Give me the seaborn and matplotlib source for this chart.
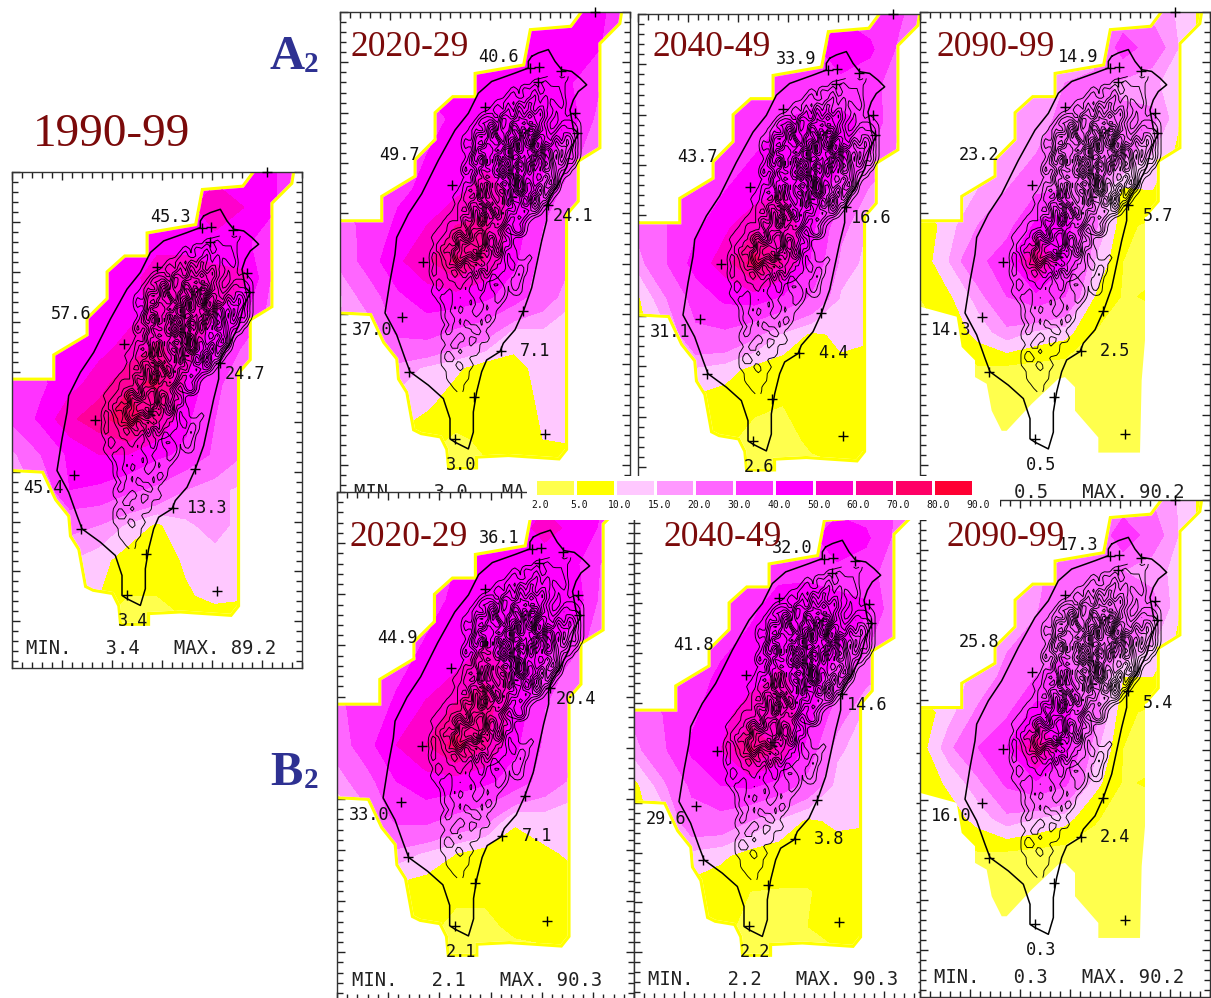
import numpy as np
import seaborn as sns
import matplotlib
matplotlib.use("Agg")
import matplotlib.pyplot as plt
from matplotlib.colors import ListedColormap, BoundaryNorm
from matplotlib.patches import Polygon

sns.set_style("white")

levels = [2, 5, 10, 15, 20, 30, 40, 50, 60, 70, 80, 90]
level_labels = ["2.0", "5.0", "10.0", "15.0", "20.0", "30.0", "40.0", "50.0", "60.0", "70.0", "80.0", "90.0"]
level_colors = ["#ffff4d", "#ffff00", "#ffc8ff", "#ff99ff", "#ff66ff", "#ff33ff", "#ff00ff",
                "#ff00cc", "#ff0099", "#ff0066", "#ff0033"]

grid_x = [35, 122, 209, 296, 383, 470, 557, 644, 731, 818, 905]
grid_y = [38, 144, 250, 356, 462, 568, 674, 780, 886, 992, 1098, 1204, 1310, 1416, 1528]

field_1990 = [
    [45, 45, 45, 45, 45, 45, 45, 45, 45, 42, 25],
    [45, 45, 45, 45, 45, 45, 45, 60, 50, 42, 25],
    [45, 45, 45, 45, 45, 47, 47, 45, 43, 30, 20],
    [40, 40, 40, 40, 46, 55, 55, 53, 52, 28, 20],
    [40, 40, 40, 43, 47, 52, 52, 50, 42, 25, 20],
    [35, 40, 42, 47, 53, 62, 55, 42, 28, 20, 20],
    [34, 38, 46, 55, 68, 72, 48, 32, 24, 20, 20],
    [32, 42, 58, 66, 78, 62, 42, 30, 25, 20, 20],
    [18, 30, 42, 50, 50, 42, 38, 28, 20, 20, 20],
    [15, 22, 40, 38, 32, 28, 20, 16, 14, 14, 14],
    [15, 18, 22, 20, 14, 9, 14, 17, 13, 13, 13],
    [12, 13, 15, 12, 7, 6, 11, 13, 12, 12, 12],
    [8, 9, 10, 10, 5, 5, 9, 12, 11, 11, 11],
    [3, 3, 4, 4, 3, 3, 3, 3, 3, 3, 3],
    [2, 2, 2, 2, 2, 2, 2, 2, 2, 2, 2],
]
field_a_2020 = [
    [45, 45, 45, 45, 45, 45, 45, 45, 42, 42, 30],
    [42, 42, 42, 42, 42, 42, 45, 50, 50, 40, 25],
    [42, 42, 42, 42, 42, 45, 42, 40, 40, 30, 20],
    [35, 35, 35, 36, 42, 47, 47, 45, 44, 25, 20],
    [35, 35, 37, 40, 43, 47, 45, 42, 33, 22, 20],
    [30, 34, 38, 42, 47, 54, 48, 38, 24, 20, 18],
    [26, 33, 42, 50, 60, 62, 46, 30, 22, 20, 18],
    [22, 35, 48, 58, 72, 60, 42, 26, 20, 20, 18],
    [14, 24, 38, 45, 46, 42, 35, 24, 16, 16, 16],
    [15, 16, 32, 34, 28, 24, 13, 14, 12, 12, 12],
    [18, 18, 18, 14, 11, 7, 8, 12, 11, 11, 11],
    [13, 13, 13, 11, 7, 6, 7, 11, 11, 11, 11],
    [9, 9, 9, 6, 4.5, 5.5, 6, 10, 11, 11, 11],
    [3, 3, 3.5, 4, 4, 4.5, 4, 4, 4, 4, 4],
    [2, 2, 2, 2, 2, 2, 2, 2, 2, 2, 2],
]
field_a_2040 = [
    [38, 38, 38, 38, 38, 38, 38, 38, 35, 32, 20],
    [35, 35, 35, 35, 35, 35, 36, 50, 42, 28, 20],
    [35, 35, 35, 35, 35, 35, 36, 35, 33, 25, 18],
    [32, 32, 32, 32, 36, 40, 42, 42, 38, 20, 18],
    [33, 33, 33, 36, 40, 44, 44, 43, 30, 18, 18],
    [28, 30, 34, 40, 45, 50, 46, 33, 18, 16, 16],
    [22, 30, 38, 48, 58, 58, 42, 22, 14, 14, 14],
    [17, 30, 44, 55, 75, 60, 38, 18, 13, 13, 13],
    [9, 20, 34, 42, 44, 38, 28, 14, 12, 12, 12],
    [8, 14, 28, 28, 22, 14, 9, 11, 11, 11, 11],
    [14, 14, 14, 12, 8, 7, 7, 9, 7, 7, 7],
    [8, 8, 8, 7, 5.5, 5, 5.5, 7, 7, 7, 7],
    [6, 6, 6, 5.5, 4, 4, 5.5, 7, 7, 7, 7],
    [5, 5, 5, 4, 3, 3.5, 4, 4, 4, 4, 4],
    [2, 2, 2, 2, 2, 2, 2, 2, 2, 2, 2],
]
field_a_2090 = [
    [22, 22, 22, 22, 22, 22, 22, 22, 18, 14, 6],
    [14, 14, 14, 14, 14, 14, 16, 35, 25, 14, 6],
    [16, 16, 16, 16, 17, 20, 22, 18, 16, 12, 6],
    [14, 14, 14, 14, 17, 22, 24, 22, 22, 10, 6],
    [14, 14, 14, 18, 20, 27, 26, 22, 15, 8, 6],
    [12, 12, 15, 20, 28, 30, 20, 9, 10, 7, 6],
    [5, 13, 20, 26, 42, 45, 22, 6, 4, 4, 4],
    [6, 15, 27, 36, 70, 42, 15, 5, 4, 4, 4],
    [5, 9, 17, 30, 36, 30, 10, 4.5, 5.5, 4, 4],
    [3, 6, 12, 18, 14, 12, 5, 3, 3, 3, 3],
    [3, 3, 4.5, 4, 3.2, 2.5, 3, 3, 3, 3, 3],
    [3, 3, 2.8, 2.5, 2.5, 2.5, 2.5, 3, 3, 3, 3],
    [2.5, 2.5, 2.5, 2.5, 2.5, 2.5, 2.5, 3, 3, 3, 3],
    [2.5, 2.5, 2.5, 2.5, 2.5, 2.5, 2.5, 2.5, 2.5, 2.5, 2.5],
    [2, 2, 2, 2, 2, 2, 2, 2, 2, 2, 2],
]
field_b_2020 = [
    [42, 42, 42, 42, 42, 42, 42, 45, 45, 40, 25],
    [40, 40, 40, 40, 40, 40, 44, 55, 46, 38, 22],
    [40, 40, 40, 40, 40, 43, 44, 42, 42, 28, 18],
    [35, 35, 35, 36, 42, 50, 50, 46, 46, 25, 18],
    [35, 35, 38, 40, 44, 48, 46, 44, 36, 22, 18],
    [30, 36, 38, 44, 50, 58, 48, 38, 24, 20, 16],
    [28, 34, 42, 52, 62, 65, 46, 30, 20, 18, 16],
    [24, 36, 50, 60, 74, 62, 42, 28, 20, 18, 16],
    [16, 26, 40, 46, 46, 42, 36, 25, 18, 16, 15],
    [12, 17, 33, 34, 28, 24, 11, 13, 12, 12, 12],
    [18, 18, 18, 14, 10, 7, 7, 9, 11, 8, 8],
    [12, 12, 8, 7, 6, 5.5, 6, 7, 8, 8, 8],
    [5, 5, 7, 6, 4, 4.5, 5.5, 6, 7, 7, 7],
    [3, 3, 3, 3.5, 3, 3, 4, 4, 4, 4, 4],
    [2, 2, 2, 2, 2, 2, 2, 2, 2, 2, 2],
]
field_b_2040 = [
    [35, 35, 35, 35, 35, 35, 35, 35, 35, 30, 20],
    [32, 32, 32, 32, 32, 32, 36, 48, 42, 28, 20],
    [34, 34, 34, 34, 34, 38, 38, 36, 34, 24, 16],
    [32, 32, 32, 34, 38, 44, 46, 44, 42, 22, 16],
    [32, 32, 36, 38, 42, 46, 46, 43, 32, 18, 16],
    [28, 32, 36, 42, 46, 52, 46, 34, 22, 16, 15],
    [22, 30, 38, 46, 56, 58, 44, 24, 13, 12, 12],
    [17, 28, 42, 50, 72, 58, 36, 16, 12, 11, 11],
    [8, 18, 32, 40, 42, 36, 26, 13, 11, 11, 11],
    [8, 12, 26, 26, 20, 14, 9, 11, 10.5, 10, 10],
    [12, 12, 13, 11, 7.5, 7, 7, 7.5, 7.5, 7, 7],
    [7, 7, 8, 6.5, 5, 4.8, 4.8, 6, 6.5, 6, 6],
    [6, 6, 6, 6, 4, 3.8, 5, 6.5, 7, 7, 7],
    [5, 5, 5, 4, 3, 3, 4, 4, 4, 4, 4],
    [2, 2, 2, 2, 2, 2, 2, 2, 2, 2, 2],
]
field_b_2090 = [
    [22, 22, 22, 22, 22, 22, 22, 22, 20, 14, 6],
    [16, 16, 16, 16, 16, 16, 18, 38, 24, 14, 6],
    [18, 18, 18, 18, 19, 22, 22, 20, 17, 13, 6],
    [15, 15, 15, 16, 19, 27, 26, 24, 23, 10, 6],
    [16, 16, 16, 19, 22, 28, 28, 23, 16, 8, 6],
    [13, 13, 16, 22, 30, 33, 22, 10, 10, 7, 6],
    [6, 13, 21, 28, 44, 44, 24, 6, 4, 4, 4],
    [7, 18, 30, 40, 68, 44, 17, 5, 3.5, 3.5, 3.5],
    [6, 11, 18, 32, 38, 32, 12, 4.5, 5.5, 4, 4],
    [3, 7, 12, 18, 15, 12, 5.5, 3, 3, 3, 3],
    [3, 3, 4.5, 4, 3.2, 2.5, 3, 3, 3, 3, 3],
    [3, 3, 2.8, 2.5, 2.5, 2.5, 2.5, 3, 3, 3, 3],
    [2.5, 2.5, 2.5, 2.5, 2.5, 2.5, 2.5, 3, 3, 3, 3],
    [2.5, 2.5, 2.5, 2.5, 2.5, 2.5, 2.5, 2.5, 2.5, 2.5, 2.5],
    [2, 2, 2, 2, 2, 2, 2, 2, 2, 2, 2],
]

# domain edge, shared north part then two versions of the south
north_edge_x = [35, 165, 165, 265, 265, 325, 325, 375, 445, 445, 590, 610, 730, 765, 875, 870, 810, 810, 745, 745, 710]
north_edge_y = [665, 665, 590, 530, 480, 420, 340, 295, 295, 225, 200, 95, 85, 38, 38, 70, 130, 440, 480, 600, 640]
south_edge_x = [710, 690, 540, 440, 440, 365, 360, 340, 280, 260, 240, 215, 210, 170, 130, 35, 35]
south_edge_y = [1340, 1365, 1355, 1360, 1392, 1392, 1340, 1300, 1290, 1280, 1170, 1130, 1070, 1020, 935, 930, 665]
late_south_x = [710, 700, 695, 570, 570, 500, 500, 470, 450, 370, 295, 280, 250, 235, 200, 200, 160, 145, 35, 35]
late_south_y = [1016, 1136, 1351, 1351, 1306, 1226, 1156, 1126, 1131, 1206, 1286, 1286, 1226, 1146, 1126, 1076, 1036, 946, 916, 665]

coast_x = [610, 630, 660, 680, 700, 730, 755, 775, 750, 735, 725, 735, 750, 730, 715, 690, 665, 655, 655, 640, 625, 610,
           585, 560, 525, 515, 475, 460, 445, 435, 435, 420, 380, 365, 365, 345, 300, 245, 230, 205, 170, 185, 200, 205,
           240, 280, 330, 380, 420, 450, 490, 560, 600, 600, 610]
coast_y = [170, 160, 150, 185, 210, 215, 235, 255, 275, 300, 330, 385, 400, 440, 500, 550, 590, 615, 660, 720, 790, 860,
           930, 985, 1025, 1050, 1075, 1110, 1170, 1230, 1290, 1340, 1320, 1310, 1250, 1190, 1150, 1110, 1070, 1000, 935,
           840, 760, 710, 640, 580, 480, 390, 340, 280, 245, 220, 205, 185, 170]

station_x = [800, 605, 632, 697, 628, 470, 740, 745, 370, 658, 283, 222, 585, 517, 243, 438, 380, 650]
station_y = [38, 205, 203, 213, 247, 322, 340, 398, 555, 612, 783, 947, 930, 1047, 1110, 1185, 1310, 1297]

# rough terrain heights, one digit per cell
terrain_x = list(range(300, 796, 16))
terrain_y = list(range(230, 1190, 20))
terrain_rows = [
    "0000000000000000000000011010000", "0000000000000000000011201100000", "0000000000000000102120121100000",
    "0000000000000001201131212100000", "0000000000000112031421301200000", "0000000000001203142314120100000",
    "0000000000121043152634210101000", "0000000001324152637142100121100", "0000000012036142751863201312100",
    "0000000103527316482530213142100", "0000000214063725163800315243100", "0000000103746158273301642532100",
    "0000000025163847215372641523100", "0000000124073615284163752412000", "0000000301625748136052643120000",
    "0000000014273605172436152100000", "0000000203516274083152463000000", "0000001140625316274130521000000",
    "0000010302714536120362410000000", "0000002143061527340152100000000", "0000011025374162514231000000000",
    "0000102316047253142100000000000", "0001120435172641321000000000000", "0010213064725310241000000000000",
    "0102145237641532000000000000000", "0021306574821413000000000000000", "0113254768352620100000000000000",
    "0202146537142310100100000000000", "0111325041623120011000000000000", "0201102315041211021000000000000",
    "0110211203120101120000000000000", "0021012011302210210000000000000", "0110201021201120110000000000000",
    "0012110102010210000000000000000", "0001201101201100000000000000000", "0001102012101000000000000000000",
    "0001210101021000000000000000000", "0000110211010000000000000000000", "0001201012100000000000000000000",
    "0001012100110000000000000000000", "0000120101000000000000000000000", "0001102011000000000000000000000",
    "0001210100000000000000000000000", "0001012010000000000000000000000", "0000101100000000000000000000000",
    "0000110100000000000000000000000", "0000011000000000000000000000000", "0000001000000000000000000000000",
]

label_y = [172, 465, 646, 986, 1048, 1388]
label_x = [510, 212, 735, 130, 620, 397]

values_1990 = ["45.3", "57.6", "24.7", "45.4", "13.3", "3.4"]
values_a_2020 = ["40.6", "49.7", "24.1", "37.0", "7.1", "3.0"]
values_a_2040 = ["33.9", "43.7", "16.6", "31.1", "4.4", "2.6"]
values_a_2090 = ["14.9", "23.2", "5.7", "14.3", "2.5", "0.5"]
values_b_2020 = ["36.1", "44.9", "20.4", "33.0", "7.1", "2.1"]
values_b_2040 = ["32.0", "41.8", "14.6", "29.6", "3.8", "2.2"]
values_b_2090 = ["17.3", "25.8", "5.4", "16.0", "2.4", "0.3"]

# bottom line of each panel, some are partly hidden in the original
panels = [
    (12, 172, 290, 496, field_1990, values_1990, "MIN.   3.4   MAX. 89.2", 78, False),
    (340, 12, 290, 500, field_a_2020, values_a_2020, "MIN.   3.0   MA", 78, False),
    (638, 14, 290, 500, field_a_2040, values_a_2040, "", 78, False),
    (920, 12, 290, 500, field_a_2090, values_a_2090, "0.5   MAX. 90.2", 316, True),
    (337, 492, 297, 508, field_b_2020, values_b_2020, "MIN.   2.1   MAX. 90.3", 78, False),
    (634, 503, 290, 496, field_b_2040, values_b_2040, "MIN.   2.2   MAX. 90.3", 78, False),
    (920, 500, 290, 497, field_b_2090, values_b_2090, "MIN.   0.3   MAX. 90.2", 78, True),
]

W, H = 1211, 998
fig = plt.figure(figsize=(W / 100, H / 100), dpi=100, facecolor="white")
cmap = ListedColormap(level_colors)


def px_axes(left, top, width, height):
    return fig.add_axes([left / W, 1 - (top + height) / H, width / W, height / H])


def smooth_terrain():
    # double the grid and soften it so the contours curl instead of making diamonds
    z = np.array([[int(c) for c in row] for row in terrain_rows], dtype=float)
    xf = np.linspace(terrain_x[0], terrain_x[-1], 2 * len(terrain_x) - 1)
    yf = np.linspace(terrain_y[0], terrain_y[-1], 2 * len(terrain_y) - 1)
    z = np.array([np.interp(xf, terrain_x, r) for r in z])
    z = np.array([np.interp(yf, terrain_y, c) for c in z.T]).T
    kernel = np.array([1, 2, 1]) / 4
    z = np.apply_along_axis(lambda r: np.convolve(r, kernel, mode="same"), 1, z)
    z = np.apply_along_axis(lambda c: np.convolve(c, kernel, mode="same"), 0, z)
    return xf, yf, z


terrain_xf, terrain_yf, terrain_z = smooth_terrain()


def draw_panel(n, left, top, width, height, field, values, bottom_text, bottom_x, late):
    ax = px_axes(left, top, width, height)
    ax.set_zorder(n + 1)
    ax.set_facecolor("white")

    if late:
        poly_x, poly_y = north_edge_x + late_south_x, north_edge_y + late_south_y
        rim_x, rim_y = north_edge_x, north_edge_y
    else:
        poly_x, poly_y = north_edge_x + south_edge_x, north_edge_y + south_edge_y
        rim_x, rim_y = poly_x, poly_y

    ax.plot(rim_x, rim_y, color="#ffff00", lw=4.5, zorder=1, solid_joinstyle="miter")
    domain = Polygon(np.column_stack([poly_x, poly_y]), closed=True, transform=ax.transData,
                     facecolor="white", edgecolor="none", zorder=1.5)
    ax.add_patch(domain)
    cs = ax.contourf(grid_x, grid_y, np.array(field, dtype=float), levels=levels, colors=level_colors, zorder=2)
    cs.set_clip_path(domain)

    ax.contour(terrain_xf, terrain_yf, terrain_z, levels=np.arange(0.4, 8, 0.6), colors="black", linewidths=0.65, zorder=3)

    sns.lineplot(x=coast_x, y=coast_y, sort=False, estimator=None, color="black", lw=1.1, ax=ax, zorder=4, legend=False)
    sns.scatterplot(x=station_x, y=station_y, marker="+", color="black", s=55, linewidth=1, ax=ax, zorder=5,
                    legend=False, clip_on=False)

    for x, y, s in zip(label_x, label_y, values):
        if s.startswith("5."):
            x = x + 15
        ax.text(x, y, s, family="DejaVu Sans Mono", fontsize=12.2, ha="center", va="center", color="#111111", zorder=6)
    if bottom_text:
        ax.text(bottom_x, 1470, bottom_text, family="DejaVu Sans Mono", fontsize=13.6, ha="left", va="center",
                color="#222222", zorder=6, clip_on=True)

    ax.set_xlim(35, 905)
    ax.set_ylim(1528, 38)
    ax.set_xticks(np.arange(35, 906, 150))
    ax.set_xticks(np.arange(35, 906, 30), minor=True)
    ax.set_yticks(np.arange(38, 1529, 150))
    ax.set_yticks(np.arange(38, 1529, 30), minor=True)
    ax.tick_params(which="major", direction="in", length=6, width=1, top=True, bottom=True, left=True, right=True,
                   labelleft=False, labelbottom=False, color="#222222")
    ax.tick_params(which="minor", direction="in", length=4, width=1, top=True, bottom=True, left=True, right=True,
                   color="#222222")
    ax.set_xlabel("")
    ax.set_ylabel("")
    for side in ax.spines.values():
        side.set_visible(True)
        side.set_color("#333333")
        side.set_linewidth(1)


for i, p in enumerate(panels):
    draw_panel(i, *p)

# white strip behind the colour key
cover = px_axes(527, 476, 473, 44)
cover.set_zorder(20)
cover.set_axis_off()
cover.add_patch(plt.Rectangle((0, 0), 1, 1, transform=cover.transAxes, color="white"))

cax = px_axes(535, 479, 443, 17)
cax.set_zorder(21)
sns.heatmap([list(range(len(level_colors)))], cmap=cmap, cbar=False, linewidths=0.8, linecolor="white", ax=cax,
            xticklabels=False, yticklabels=False)
cax.set_xticks(np.arange(len(levels)) + 0.12)
cax.set_xticklabels(level_labels, family="DejaVu Sans Mono", fontsize=7, color="#111111")
cax.tick_params(axis="x", length=0, pad=3)

titles = [
    ("1990-99", 112, 135, 34),
    ("2020-29", 410, 47, 25.6),
    ("2040-49", 712, 48, 25.6),
    ("2090-99", 996, 48, 25.6),
    ("2020-29", 409, 537, 25.6),
    ("2040-49", 723, 537, 25.6),
    ("2090-99", 1006, 537, 25.6),
]
for s, x, y, size in titles:
    fig.text(x / W, 1 - y / H, s, family="Liberation Serif", fontsize=size, color="#7b0a0a", ha="center", va="center",
             zorder=30)

for s, x, y in [("A", 270, 57), ("B", 270, 773)]:
    fig.text(x / W, 1 - y / H, s, family="Liberation Serif", weight="bold", fontsize=35, color="#2e3192", va="center",
             zorder=30)
    fig.text((x + 34) / W, 1 - (y + 8) / H, "2", family="Liberation Serif", weight="bold", fontsize=21, color="#2e3192",
             va="center", zorder=30)

fig.savefig("out.png", dpi=100)
